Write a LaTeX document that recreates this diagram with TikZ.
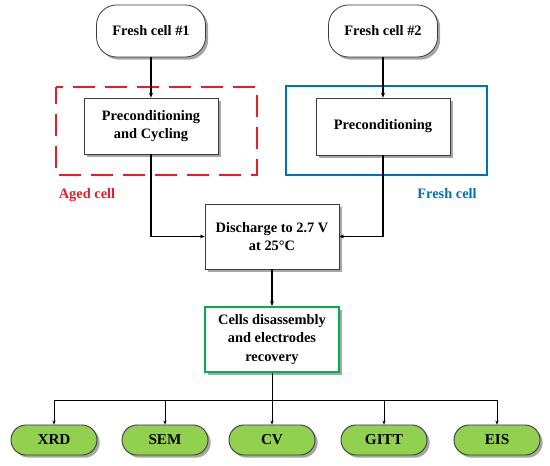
\documentclass[tikz,border=0pt]{standalone}
\usepackage{fontspec}
\setmainfont{Liberation Serif}
\usetikzlibrary{arrows.meta,shadows,positioning}
\definecolor{redline}{RGB}{235,28,36}
\definecolor{blueline}{RGB}{0,112,192}
\definecolor{greenline}{RGB}{0,176,80}
\definecolor{pillfill}{RGB}{146,208,80}
\definecolor{edge}{RGB}{60,60,60}
\tikzset{
  shade/.style={drop shadow={shadow xshift=2pt, shadow yshift=-2pt, opacity=0.35, fill=black}},
  txt/.style={font=\fontsize{10.8}{13.8}\selectfont\bfseries, align=center, text=black},
  startbox/.style={txt, shade, draw=edge, line width=0.6pt, fill=white, rounded corners=15pt,
    minimum width=81.75pt, minimum height=39pt, inner sep=0pt},
  procbox/.style={txt, shade, draw=edge, line width=0.6pt, fill=white,
    minimum width=100.5pt, minimum height=42pt, inner sep=0pt},
  greenbox/.style={txt, shade, draw=greenline, line width=1.6pt, fill=white,
    minimum width=100.5pt, minimum height=48.75pt, inner sep=0pt},
  pill/.style={shade, draw=edge, line width=0.7pt, fill=pillfill, rounded corners=11.25pt,
    minimum width=64.5pt, minimum height=22.5pt, inner sep=0pt,
    font=\fontsize{11.4}{13}\selectfont\bfseries},
  conn/.style={draw=black, line width=0.9pt, -{Stealth[length=3.5pt,width=3pt]}},
  thin conn/.style={draw=black, line width=0.6pt, -{Stealth[length=3pt,width=2.5pt]}},
}
\begin{document}
\begin{tikzpicture}[x=0.75pt,y=-0.75pt]
\useasboundingbox (0,0) rectangle (550,466);
% group frames
\draw[redline, line width=2.2pt, dash pattern=on 16.5pt off 7.5pt, dash phase=4pt] (56,87) rectangle (257,175);
\draw[blueline, line width=2.2pt] (286,86) rectangle (487,175);
\node[txt, text=redline] (aged) at (87,195) {Aged cell};
\node[txt, text=blueline] (freshlbl) at (447,194) {Fresh cell};
% nodes
\node[startbox] (fc1) at (151,31) {Fresh cell \#1};
\node[startbox] (fc2) at (383,31) {Fresh cell \#2};
\node[procbox] (pc) at (151,126) {Preconditioning\\and Cycling};
\node[procbox, minimum height=42.75pt] (p) at (383,126.5) {Preconditioning};
\node[procbox, minimum height=48.75pt] (dis) at (272,236.5) {Discharge to 2.7 V\\at 25°C};
\node[greenbox] (rec) at (272,339.5) {Cells disassembly\\and electrodes\\recovery};
\node[pill] (xrd) at (54,440) {XRD};
\node[pill] (sem) at (165,440) {SEM};
\node[pill] (cv) at (272,440) {CV};
\node[pill] (gitt) at (384,440) {GITT};
\node[pill] (eis) at (497,440) {EIS};
\coordinate (bus) at (272,400);
% connectors
\draw[conn] (fc1) -- (pc);
\draw[conn] (fc2) -- (p);
\draw[conn] (pc.south) |- (dis.west);
\draw[conn] (p.south) |- (dis.east);
\draw[conn] (dis) -- (rec);
\draw[line width=0.6pt] (rec.south) -- (bus);
\draw[thin conn] (bus) -| (xrd.north);
\draw[thin conn] (bus) -| (sem.north);
\draw[thin conn] (bus) -- (cv.north);
\draw[thin conn] (bus) -| (gitt.north);
\draw[thin conn] (bus) -| (eis.north);
\end{tikzpicture}
\end{document}
